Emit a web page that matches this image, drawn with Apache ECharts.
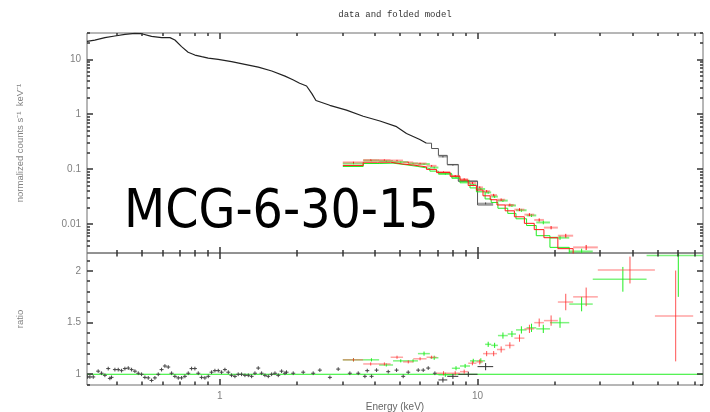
<!DOCTYPE html>
<html><head><meta charset="utf-8">
<script src="https://cdn.jsdelivr.net/npm/echarts@6/dist/echarts.min.js"></script>
<style>html,body{margin:0;padding:0;background:#fff}#c{width:710px;height:412px}</style>
</head><body><div id="c"></div>
<script>
// ---------- tick labels / ticks ----------
var xMajorTicks = [1, 10];
var xMinorTicks = [0.4,0.5,0.6,0.7,0.8,0.9,2,3,4,5,6,7,8,9,20,30,40,50,60,70];
var yTopMajorTicks = [0.01, 0.1, 1, 10];
var yTopMinorTicks = [0.004,0.005,0.006,0.007,0.008,0.009,0.02,0.03,0.04,0.05,0.06,0.07,0.08,0.09,
  0.2,0.3,0.4,0.5,0.6,0.7,0.8,0.9,2,3,4,5,6,7,8,9,20,30];
var yBotMajorTicks = [1, 1.5, 2];
var yBotMinorTicks = [0.9,1.1,1.2,1.3,1.4,1.6,1.7,1.8,1.9,2.1];

// ---------- black (soft X-ray) spectrum, top panel ----------
var blackE = [0.305,0.327,0.358,0.391,0.428,0.468,0.497,0.543,0.594,0.64,0.669,0.71,0.753,0.80,0.85,0.901,0.985,
  1.11,1.25,1.41,1.59,1.79,1.92,2.04,2.17,2.275,2.36,2.67,3.10,3.60,4.18,4.85,5.30,5.97,6.34];
var blackFlux = [21.5,22.7,25.1,26.9,28.8,30.0,29.6,26.5,25.1,25.1,22.7,17.2,13.6,12.1,11.3,10.6,10.1,
  9.2,8.2,7.3,6.2,5.0,4.3,3.7,3.3,2.4,1.8,1.47,1.2,0.93,0.76,0.6,0.45,0.35,0.30];
var blackStepLo = [6.34,6.63,7.05,7.63,8.42,10.0];
var blackStepHi = [6.63,7.05,7.63,8.42,10.0,11.5];
var blackStepModel = [0.30,0.24,0.18,0.123,0.061,0.0225];
var blackWideLo = [7.05,7.63,8.42,10.0];
var blackWideHi = [7.63,8.42,10.0,11.5];
var blackWideFlux = [0.17,0.121,0.061,0.024];
var blackWideFluxErr = [0.005,0.004,0.002,0.001];
var blackWideRatio = [0.945,0.98,1.0,1.074];
var blackWideRatioErr = [0.025,0.025,0.025,0.035];

// black ratio points (narrow bins)
var blackRatioE = [0.3065,0.313,0.3225,0.337,0.3474,0.3579,0.3687,0.3742,0.3798,0.3914,0.4032,0.4154,0.428,0.441,
  0.4543,0.468,0.4822,0.4968,0.5117,0.5272,0.5431,0.5596,0.5765,0.5939,0.6119,0.6304,0.6495,0.6691,0.6894,0.7102,
  0.7317,0.7538,0.7766,0.80,0.8243,0.8492,0.8748,0.9013,0.9286,0.9567,0.9856,1.0153,1.046,1.078,1.110,1.144,1.178,
  1.214,1.251,1.289,1.328,1.368,1.409,1.452,1.496,1.541,1.588,1.636,1.685,1.736,1.789,
  1.814,1.926,2.106,2.302,2.444,2.673,2.879,3.195,3.443,3.655,3.732,3.879,4.056,4.502,4.850,5.146,5.383,5.886,
  6.155,6.436,6.831];
var blackRatio = [0.974,0.974,0.974,1.03,1.01,0.99,1.055,0.96,0.97,1.045,1.045,1.035,1.055,1.06,
  1.045,1.03,1.01,1.0,0.97,0.965,0.94,0.965,1.0,1.045,1.08,1.07,1.01,0.98,0.965,0.965,
  0.98,1.01,1.055,1.055,1.01,0.97,0.965,0.98,1.02,1.035,1.035,1.02,1.045,1.02,0.99,0.98,1.0,
  1.0,0.99,0.99,0.98,1.01,1.06,1.01,0.99,0.98,1.0,1.01,0.99,1.03,1.01,
  1.02,1.01,1.02,1.01,1.04,0.97,1.05,1.01,1.01,0.98,1.035,0.98,1.04,1.025,1.04,0.98,1.02,1.04,
  1.04,1.06,1.01];
var blackRatioErr = 0.018;

// ---------- red (FPMA) ----------
var redLo = [3.0,3.6,4.1,4.6,5.14,5.63,6.34,6.93,7.83,8.55,9.2,9.9,10.5,11.2,11.9,12.8,13.9,15.2,16.6,18.1,20.5,23.5,29.3,48.8];
var redHi = [3.6,4.1,4.6,5.14,5.63,6.34,6.93,7.83,8.55,9.2,9.9,10.5,11.2,11.9,12.8,13.9,15.2,16.6,18.1,20.5,23.5,29.3,48.8,68.7];
var redFlux = [0.134,0.148,0.148,0.145,0.134,0.128,0.116,0.089,0.076,0.066,0.0565,0.047,0.040,0.034,0.028,0.0225,0.0185,0.015,0.012,0.0087,0.0062,0.0038,0.0018,0.0006];
var redFluxErr = [0.004,0.004,0.004,0.004,0.004,0.004,0.004,0.003,0.003,0.003,0.0025,0.002,0.002,0.0018,0.0015,0.0013,0.0011,0.0009,0.0008,0.0006,0.0005,0.0004,0.0003,0.0003];
var redModel = [0.118,0.135,0.135,0.125,0.12,0.111,0.10,0.088,0.075,0.064,0.051,0.042,0.033,0.028,0.0225,0.0176,0.0137,0.0104,0.008,0.0057,0.0036,0.0022,0.0009,0.00038];
var redRatio = [1.14,1.10,1.10,1.165,1.12,1.15,1.165,1.01,1.01,1.025,1.107,1.12,1.20,1.20,1.24,1.28,1.35,1.44,1.50,1.52,1.70,1.75,2.01,1.565];
var redRatioErr = [0.015,0.015,0.015,0.015,0.015,0.015,0.015,0.02,0.02,0.02,0.02,0.025,0.025,0.025,0.03,0.03,0.035,0.04,0.04,0.05,0.08,0.09,0.13,0.44];

// ---------- green (FPMB) ----------
var greenLo = [3.0,3.6,4.15,4.7,5.37,5.87,6.53,7.05,7.95,8.55,9.35,9.9,10.7,11.3,12.0,13.1,14.1,15.5,16.9,19.1,22.7,28.0,45.3];
var greenHi = [3.6,4.15,4.7,5.37,5.87,6.53,7.05,7.95,8.55,9.35,9.9,10.7,11.3,12.0,13.1,14.1,15.5,16.9,19.1,22.7,28.0,45.3,75];
var greenFlux = [0.128,0.145,0.142,0.136,0.128,0.125,0.108,0.083,0.073,0.062,0.052,0.044,0.038,0.032,0.027,0.022,0.018,0.0145,0.0108,0.0057,0.0032,0.0015,0.0006];
var greenFluxErr = [0.004,0.004,0.004,0.004,0.004,0.004,0.004,0.003,0.003,0.003,0.0025,0.002,0.002,0.0018,0.0015,0.0013,0.0011,0.0009,0.0008,0.0005,0.0004,0.0003,0.0003];
var greenModel = [0.113,0.128,0.13,0.12,0.113,0.104,0.093,0.083,0.069,0.057,0.046,0.039,0.029,0.025,0.0196,0.0158,0.0126,0.0095,0.0062,0.0038,0.0019,0.0008,0.00028];
var greenRatio = [1.14,1.14,1.09,1.13,1.13,1.20,1.16,0.995,1.058,1.08,1.13,1.13,1.29,1.28,1.375,1.39,1.43,1.45,1.44,1.50,1.68,1.92,2.15];
var greenRatioErr = [0.015,0.015,0.015,0.015,0.015,0.02,0.02,0.02,0.02,0.02,0.02,0.025,0.025,0.025,0.03,0.03,0.035,0.04,0.04,0.05,0.07,0.12,0.4];

var ratioUnity = 1;

// ---------- helpers ----------
var X_MIN = 0.305, X_MAX = 75, YT_MIN = 0.003, YT_MAX = 30.5, YB_MIN = 0.896, YB_MAX = 2.175;
var AX = '#6e6e6e', TK = '#333', LAB = '#808080';
function fmt(v){ return String(+(+v).toPrecision(3)); }
function xAx(g, lab){
  return {type:'log', logBase:10, gridIndex:g, position:'bottom', min:X_MIN, max:X_MAX,
    axisLine:{show:false}, splitLine:{show:false}, axisTick:{show:false},
    axisLabel: lab ? {show:true, customValues:xMajorTicks, formatter:fmt, color:LAB, fontSize:10, margin:6} : {show:false}};
}
function yAx(g, type, mn, mx, ticks, name){
  var a = {type:type, gridIndex:g, position:'left', min:mn, max:mx,
    axisLine:{show:false}, splitLine:{show:false}, axisTick:{show:false},
    axisLabel:{show:true, customValues:ticks, formatter:fmt, color:LAB, fontSize:10, margin:6},
    name:name, nameLocation:'middle', nameGap:62, nameRotate:90, nameTextStyle:{color:LAB, fontSize:9.5}};
  if (type === 'log') a.logBase = 10;
  return a;
}
function zipBins(lo, hi, v, e){ return lo.map(function(l,i){ return [l, hi[i], v[i], Array.isArray(e)?e[i]:e]; }); }
function stepData(lo, hi, v){ var d = lo.map(function(l,i){ return [l, v[i]]; }); d.push([hi[hi.length-1], v[v.length-1]]); return d; }
function seg(x1,y1,x2,y2,color,w){ return {type:'line', shape:{x1:x1,y1:y1,x2:x2,y2:y2}, style:{stroke:color, lineWidth:w}}; }
function crossRender(hColor, vColor, hw){
  return function(params, api){
    var lo = api.value(0), hi = api.value(1), v = api.value(2), e = api.value(3);
    var mid = (lo + hi) / 2;
    var a = api.coord([lo, v]), b = api.coord([hi, v]);
    var c = api.coord([mid, v + e]), d = api.coord([mid, v - e]);
    return {type:'group', children:[ seg(a[0],a[1],b[0],b[1],hColor,hw), seg(c[0],c[1],d[0],d[1],vColor,1) ]};
  };
}
function narrowRender(color){
  return function(params, api){
    var E = api.value(0), v = api.value(1), e = api.value(2);
    var p = api.coord([E, v]), c = api.coord([E, v + e]), d = api.coord([E, v - e]);
    return {type:'group', children:[ seg(p[0]-2,p[1],p[0]+2,p[1],color,1), seg(c[0],c[1],d[0],d[1],color,1) ]};
  };
}
// frame ticks, placed through the axes' scales, pointing inward on both edges
function xTickRender(params, api){
  var v = api.value(0), lo = api.value(1), hi = api.value(2), len = api.value(3);
  var pb = api.coord([v, lo]), pt = api.coord([v, hi]);
  var x = Math.round(pb[0]);
  return {type:'group', children:[ seg(x, pb[1], x, pb[1]-len, TK, 1.5), seg(x, pt[1], x, pt[1]+len, TK, 1.5) ]};
}
function yTickRender(params, api){
  var v = api.value(0), lo = api.value(1), hi = api.value(2), len = api.value(3);
  var pl = api.coord([lo, v]), pr = api.coord([hi, v]);
  var y = Math.round(pl[1]);
  return {type:'group', children:[ seg(pl[0], y, pl[0]+len, y, TK, 1.5), seg(pr[0], y, pr[0]-len, y, TK, 1.5) ]};
}
function xTicks(g, yLo, yHi, major, minor, lMaj, lMin){
  var d = major.map(function(v){return [v, yLo, yHi, lMaj];}).concat(minor.map(function(v){return [v, yLo, yHi, lMin];}));
  return {type:'custom', xAxisIndex:g, yAxisIndex:g, data:d, encode:{x:0, y:1}, renderItem:xTickRender, z:10};
}
function yTicks(g, major, minor, lMaj, lMin){
  var d = major.map(function(v){return [v, X_MIN, X_MAX, lMaj];}).concat(minor.map(function(v){return [v, X_MIN, X_MAX, lMin];}));
  return {type:'custom', xAxisIndex:g, yAxisIndex:g, data:d, encode:{y:0, x:1}, renderItem:yTickRender, z:10};
}

var RED = '#ff1a1a', RED_H = 'rgba(255,90,90,0.55)', GREEN = '#22ee22', GREEN_H = 'rgba(40,235,40,0.6)';

var option = {
  animation:false,
  textStyle:{fontFamily:'Liberation Sans'},
  title:{text:'data and folded model', left:390, top:5, textAlign:'center',
    textStyle:{fontFamily:'Liberation Mono', fontSize:9, fontWeight:'normal', color:'#333'}},
  graphic:[{type:'text', left:124, top:187, z:100,
    style:{text:'MCG-6-30-15', font:'53px "DejaVu Sans Condensed"', fill:'#000'}}],
  grid:[
    {left:87, top:33, width:616, height:220, show:true, borderColor:AX, borderWidth:1, outerBoundsMode:'none'},
    {left:87, top:253, width:616, height:132, show:true, borderColor:AX, borderWidth:1, outerBoundsMode:'none'}
  ],
  xAxis:[
    xAx(0,false),
    Object.assign(xAx(1,true), {name:'Energy (keV)', nameLocation:'middle', nameGap:17,
      nameTextStyle:{color:'#666', fontSize:10}})
  ],
  yAxis:[
    yAx(0,'log',YT_MIN,YT_MAX,yTopMajorTicks,'normalized counts s\u207B\u00B9  keV\u207B\u00B9'),
    yAx(1,'value',YB_MIN,YB_MAX,yBotMajorTicks,'ratio')
  ],
  series:[
    xTicks(0, YT_MIN, YT_MAX, xMajorTicks, xMinorTicks, 6, 3),
    xTicks(1, YB_MIN, YB_MAX, xMajorTicks, xMinorTicks, 6, 3.5),
    yTicks(0, yTopMajorTicks, yTopMinorTicks, 6, 3),
    yTicks(1, yBotMajorTicks, yBotMinorTicks, 6, 3),
    {type:'line', xAxisIndex:0, yAxisIndex:0, showSymbol:false, z:3,
      data:blackE.map(function(e,i){return [e, blackFlux[i]];}),
      lineStyle:{color:'#222', width:1.2}},
    {type:'line', xAxisIndex:0, yAxisIndex:0, showSymbol:false, step:'end', z:3,
      data:stepData(blackStepLo, blackStepHi, blackStepModel), lineStyle:{color:'#555', width:1}},
    {type:'custom', xAxisIndex:0, yAxisIndex:0, clip:true, z:3,
      data:zipBins(blackWideLo, blackWideHi, blackWideFlux, blackWideFluxErr),
      encode:{x:[0,1], y:2}, renderItem:crossRender('rgba(120,120,120,0.7)','#444',1.5)},
    {type:'custom', xAxisIndex:0, yAxisIndex:0, clip:true, z:4,
      data:zipBins(greenLo, greenHi, greenFlux, greenFluxErr),
      encode:{x:[0,1], y:2}, renderItem:crossRender(GREEN_H, GREEN, 2)},
    {type:'line', xAxisIndex:0, yAxisIndex:0, showSymbol:false, step:'end', z:4, clip:true,
      data:stepData(greenLo, greenHi, greenModel), lineStyle:{color:GREEN, width:1}},
    {type:'custom', xAxisIndex:0, yAxisIndex:0, clip:true, z:5,
      data:zipBins(redLo, redHi, redFlux, redFluxErr),
      encode:{x:[0,1], y:2}, renderItem:crossRender(RED_H, RED, 2)},
    {type:'line', xAxisIndex:0, yAxisIndex:0, showSymbol:false, step:'end', z:5, clip:true,
      data:stepData(redLo, redHi, redModel), lineStyle:{color:RED, width:1}},
    {type:'line', xAxisIndex:1, yAxisIndex:1, showSymbol:false, z:2,
      data:[[X_MIN, ratioUnity],[X_MAX, ratioUnity]], lineStyle:{color:GREEN, width:1}},
    {type:'custom', xAxisIndex:1, yAxisIndex:1, clip:true, z:3,
      data:blackRatioE.map(function(e,i){return [e, blackRatio[i], blackRatioErr];}),
      encode:{x:0, y:1}, renderItem:narrowRender('#444')},
    {type:'custom', xAxisIndex:1, yAxisIndex:1, clip:true, z:3,
      data:zipBins(blackWideLo, blackWideHi, blackWideRatio, blackWideRatioErr),
      encode:{x:[0,1], y:2}, renderItem:crossRender('#333','#333',1)},
    {type:'custom', xAxisIndex:1, yAxisIndex:1, clip:true, z:4,
      data:zipBins(greenLo, greenHi, greenRatio, greenRatioErr),
      encode:{x:[0,1], y:2}, renderItem:crossRender(GREEN_H, GREEN, 1.5)},
    {type:'custom', xAxisIndex:1, yAxisIndex:1, clip:true, z:5,
      data:zipBins(redLo, redHi, redRatio, redRatioErr),
      encode:{x:[0,1], y:2}, renderItem:crossRender(RED_H, 'rgba(255,40,40,0.8)', 1.5)}
  ]
};
var chart = echarts.init(document.getElementById('c'), null, {renderer:'canvas'});
chart.setOption(option);
</script></body></html>
